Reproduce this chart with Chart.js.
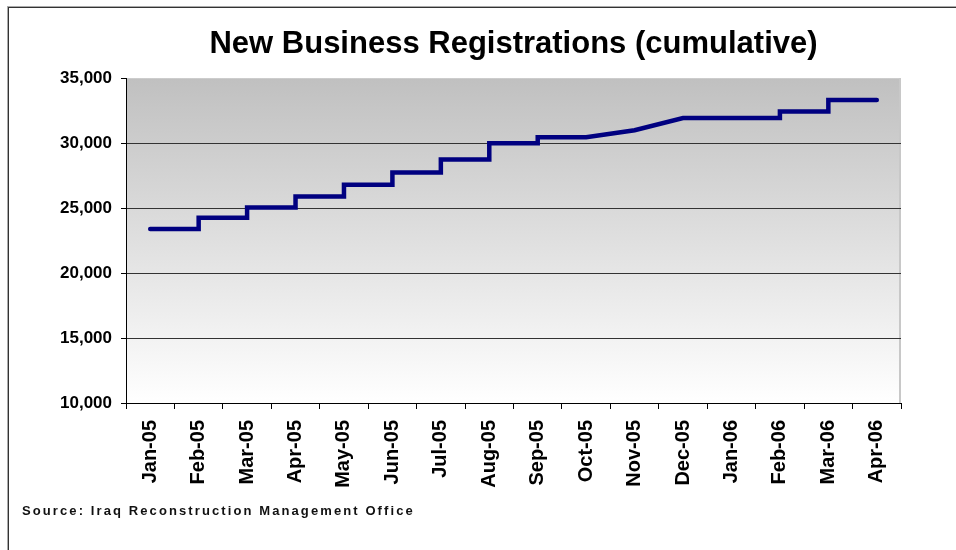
<!DOCTYPE html>
<html>
<head>
<meta charset="utf-8">
<script src="https://cdn.jsdelivr.net/npm/chart.js@4.4.1/dist/chart.umd.min.js"></script>
<style>
  html, body { margin: 0; padding: 0; background: #fff; }
  #wrap { position: relative; width: 956px; height: 550px; overflow: hidden; }
  #frame { position: absolute; left: 8px; top: 7px; width: 960px; height: 560px;
           border-top: 1px solid #333; border-left: 1px solid #333; box-shadow: -1px -1px 0 #aaa; }
  canvas { position: absolute; left: 0; top: 0; }
  #source { position: absolute; left: 22px; top: 503px; line-height: 15px;
            font: bold 13px "Liberation Sans", Arial, sans-serif; letter-spacing: 2.1px; color: #111; }
</style>
</head>
<body>
<div id="wrap">
  <div id="frame"></div>
  <canvas id="chart" width="956" height="550"></canvas>
  <div id="source">Source: Iraq Reconstruction Management Office</div>
</div>
<script>
const months = ['Jan-05', 'Feb-05', 'Mar-05', 'Apr-05', 'May-05', 'Jun-05', 'Jul-05', 'Aug-05',
                'Sep-05', 'Oct-05', 'Nov-05', 'Dec-05', 'Jan-06', 'Feb-06', 'Mar-06', 'Apr-06'];
const registrations = [23400, 24250, 25050, 25900, 26800, 27750, 28750, 30000,
                       30450, 30450, 31000, 31930, 31930, 32440, 33320, 33320];
// true where the total jumps at the month (drawn as a step), false = straight segment
const jumps = [false, true, true, true, true, true, true, true,
               true, false, false, false, false, true, true, false];
const yMin = 10000;
const yMax = 35000;
const yStep = 5000;

const FONT = '"Liberation Sans", Arial, Helvetica, sans-serif';

// a step gets an extra point in the same month at the previous value
const points = [];
registrations.forEach((v, i) => {
    if (i > 0 && jumps[i]) points.push({ x: i, y: registrations[i - 1] });
    points.push({ x: i, y: v });
});

const plotBackground = {
    id: 'plotBackground',
    beforeDraw(chart) {
        const { ctx, chartArea: a } = chart;
        const g = ctx.createLinearGradient(0, a.top, 0, a.bottom);
        g.addColorStop(0, '#c0c0c0');
        g.addColorStop(1, '#ffffff');
        ctx.save();
        ctx.fillStyle = g;
        ctx.fillRect(a.left, a.top, a.width, a.height);
        ctx.strokeStyle = '#c8c8c8';
        ctx.lineWidth = 2;
        ctx.beginPath();
        ctx.moveTo(a.right - 1, a.top);
        ctx.lineTo(a.right - 1, a.bottom);
        ctx.stroke();
        ctx.restore();
    }
};

new Chart(document.getElementById('chart'), {
    type: 'line',
    data: {
        labels: months,
        datasets: [{
            label: 'Registrations',
            data: points,
            xAxisID: 'xv',
            borderColor: '#000080',
            borderWidth: 4.5,
            borderCapStyle: 'round',
            borderJoinStyle: 'miter',
            pointRadius: 0,
            tension: 0,
            fill: false
        }]
    },
    options: {
        responsive: false,
        animation: false,
        layout: { padding: { left: 10, right: 55, top: 0, bottom: 47 } },
        plugins: {
            legend: { display: false },
            tooltip: { enabled: false },
            title: {
                display: true,
                fullSize: false, // centre over the plot, like the original
                text: 'New Business Registrations (cumulative)',
                color: '#000',
                font: { family: FONT, size: 31, weight: 'bold' },
                padding: { top: 26, bottom: 15 }
            }
        },
        scales: {
            x: {
                type: 'category',
                offset: true,
                grid: { offset: true, drawOnChartArea: false, tickLength: 6, tickColor: '#000' },
                border: { color: '#000' },
                ticks: {
                    color: '#000',
                    font: { family: FONT, size: 20, weight: 'bold' },
                    minRotation: 90,
                    maxRotation: 90,
                    autoSkip: false,
                    padding: 11
                },
                afterFit: s => { s.height = 100; }
            },
            xv: { type: 'linear', display: false, min: -0.5, max: 15.5 },
            y: {
                min: yMin,
                max: yMax,
                ticks: {
                    stepSize: yStep,
                    color: '#000',
                    font: { family: FONT, size: 17, weight: 'bold' },
                    padding: 9,
                    callback: v => v.toLocaleString('en-US')
                },
                grid: {
                    color: ctx => ctx.tick && ctx.tick.value === yMax ? 'rgba(0,0,0,0)' : '#333',
                    tickColor: '#000',
                    tickLength: 5
                },
                border: { color: '#000' },
                afterFit: s => { s.width = 116; }
            }
        }
    },
    plugins: [plotBackground]
});
</script>
</body>
</html>
